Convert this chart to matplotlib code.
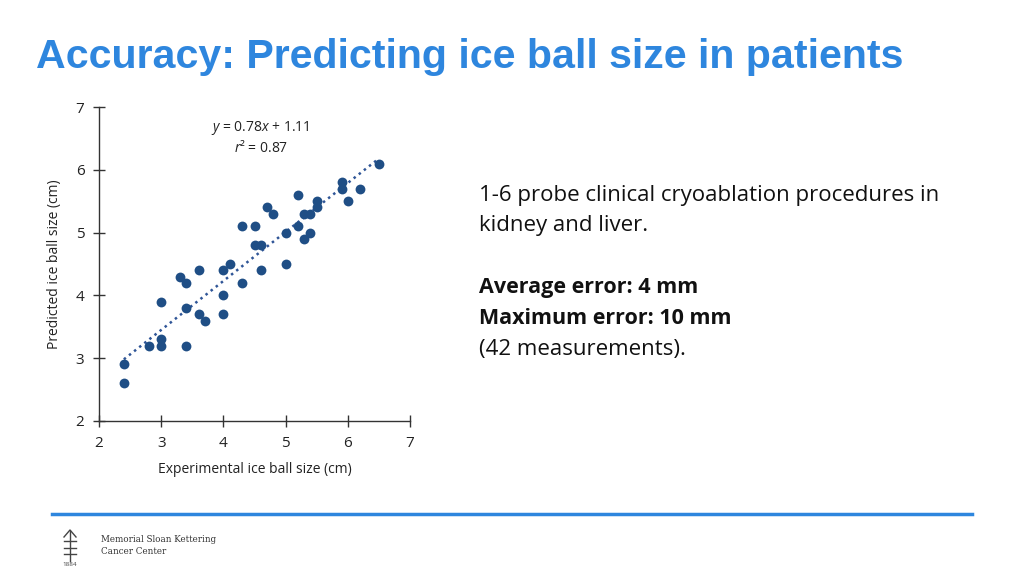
import matplotlib
matplotlib.use('Agg')
import matplotlib.pyplot as plt
import numpy as np

plt.rcParams['font.family'] = ['Open Sans', 'DejaVu Sans']
plt.rcParams['mathtext.fontset'] = 'custom'
plt.rcParams['mathtext.it'] = 'Open Sans:italic'
plt.rcParams['mathtext.rm'] = 'Open Sans'

# measured vs predicted ice ball size (cm)
experimental = [2.4, 2.4, 2.8, 3.0, 3.0, 3.0, 3.3, 3.4, 3.4, 3.4,
                3.6, 3.6, 3.7, 4.0, 4.0, 4.0, 4.1, 4.3, 4.3, 4.5,
                4.5, 4.6, 4.6, 4.7, 4.8, 5.0, 5.0, 5.2, 5.2, 5.3,
                5.3, 5.4, 5.4, 5.5, 5.5, 5.9, 5.9, 6.0, 6.2, 6.5]
predicted = [2.9, 2.6, 3.2, 3.3, 3.2, 3.9, 4.3, 4.2, 3.8, 3.2,
             4.4, 3.7, 3.6, 4.4, 4.0, 3.7, 4.5, 5.1, 4.2, 5.1,
             4.8, 4.8, 4.4, 5.4, 5.3, 5.0, 4.5, 5.6, 5.1, 5.3,
             4.9, 5.3, 5.0, 5.4, 5.5, 5.8, 5.7, 5.5, 5.7, 6.1]
slope, intercept = 0.78, 1.11
fit_range = [2.4, 6.5]

dot_color = '#1f4e85'
title_color = '#2e86de'

fig = plt.figure(figsize=(10.24, 5.76), dpi=100)

fig.text(36/1024, 1-57/576, 'Accuracy: Predicting ice ball size in patients',
         family=['Liberation Sans', 'DejaVu Sans'], weight='bold', fontsize=29.6,
         color=title_color, va='center', ha='left')

ax = fig.add_axes([99/1024, 1-421/576, 311/1024, 314/576])
ax.scatter(experimental, predicted, s=50, color=dot_color, zorder=3, linewidths=0)
fx = np.array(fit_range)
ax.plot(fx, slope*fx + intercept, linestyle=(0, (1, 1.6)), color='#2f5597', lw=1.8)

ax.set_xlim(2, 7)
ax.set_ylim(2, 7)
ax.set_xticks(range(2, 8))
ax.set_yticks(range(2, 8))
for s in ['top', 'right']:
    ax.spines[s].set_visible(False)
for s in ['left', 'bottom']:
    ax.spines[s].set_color('#333333')
    ax.spines[s].set_linewidth(1.0)
ax.tick_params(direction='inout', length=9, width=1.0, color='#333333',
               labelsize=11, labelcolor='#222222', pad=6)
ax.set_xlabel('Experimental ice ball size (cm)', fontsize=10, color='#222222', labelpad=8)
ax.set_ylabel('Predicted ice ball size (cm)', fontsize=10, color='#222222', labelpad=10)

ax.text(0.52, 0.934, '$y$ = 0.78$x$ + 1.11', transform=ax.transAxes,
        fontsize=10, ha='center', va='center', color='#222222')
ax.text(0.52, 0.87, '$r$² = 0.87', transform=ax.transAxes,
        fontsize=10, ha='center', va='center', color='#222222')

fx0 = 479/1024
fig.text(fx0, 1-195/576, '1-6 probe clinical cryoablation procedures in',
         fontsize=16, va='center', color='#111111')
fig.text(fx0, 1-226/576, 'kidney and liver.', fontsize=16, va='center', color='#111111')
fig.text(fx0, 1-288/576, 'Average error: 4 mm', fontsize=15.5, weight='bold',
         va='center', color='#111111')
fig.text(fx0, 1-319/576, 'Maximum error: 10 mm', fontsize=15.5, weight='bold',
         va='center', color='#111111')
fig.text(fx0, 1-350/576, '(42 measurements).', fontsize=16, va='center', color='#111111')

# footer rule and logo
fig.add_artist(plt.Line2D([52/1024, 972/1024], [1-514/576, 1-514/576],
                          transform=fig.transFigure, color='#2e86de', lw=2.5))
fig.text(101/1024, 1-540/576, 'Memorial Sloan Kettering', family='DejaVu Serif',
         fontsize=6.3, va='center', color='#333333')
fig.text(101/1024, 1-551/576, 'Cancer Center', family='DejaVu Serif',
         fontsize=6.3, va='center', color='#333333')
lx = 70/1024
for y0, y1, x0, x1 in [(531, 561, 0, 0), (541, 541, -6, 6), (548, 548, -6, 6), (554, 554, -6, 6)]:
    fig.add_artist(plt.Line2D([lx + x0/1024, lx + x1/1024], [1-y0/576, 1-y1/576],
                              transform=fig.transFigure, color='#444444', lw=1))
fig.add_artist(plt.Line2D([lx - 6/1024, lx, lx + 6/1024], [1-537/576, 1-530/576, 1-537/576],
                          transform=fig.transFigure, color='#444444', lw=1))
fig.text(lx, 1-565/576, '1884', fontsize=4.5, ha='center', va='center', color='#444444')

fig.savefig('out.png', dpi=100)
